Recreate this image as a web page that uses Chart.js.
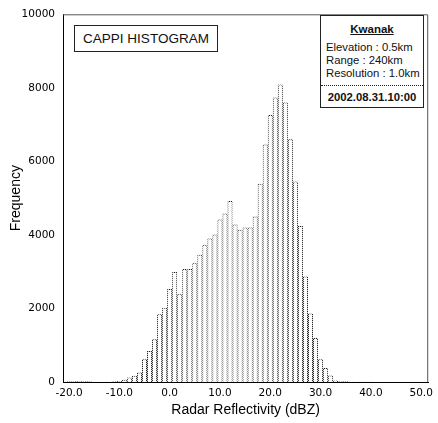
<!DOCTYPE html>
<html>
<head>
<meta charset="utf-8">
<script src="https://cdn.jsdelivr.net/npm/chart.js@4.4.0/dist/chart.umd.min.js"></script>
<style>
  body { margin: 0; background: #fff; }
  #wrap { position: relative; width: 438px; height: 423px; }
  .box { position: absolute; border: 1px solid #222; background: #fff; font-family: "Liberation Sans", sans-serif; color: #111; }
  #titleBox { left: 74px; top: 25px; width: 142px; height: 25px; font-size: 13.5px; line-height: 25px; text-align: center; }
  #infoBox { left: 320px; top: 15px; width: 102px; height: 91px; font-size: 11.3px; }
  #infoBox .t { position: absolute; left: 5px; white-space: nowrap; }
  #infoBox .c { left: 0; right: 0; text-align: center; font-weight: bold; }
  #infoBox .sep { position: absolute; left: 0; right: 0; top: 69px; border-top: 1px dotted #222; }
</style>
</head>
<body>
<div id="wrap">
  <canvas id="histChart" width="438" height="423"></canvas>
  <div class="box" id="titleBox">CAPPI HISTOGRAM</div>
  <div class="box" id="infoBox">
    <span class="t c" style="top:7px;text-decoration:underline;font-size:11.5px">Kwanak</span>
    <span class="t" style="top:25px">Elevation : 0.5km</span>
    <span class="t" style="top:38px">Range : 240km</span>
    <span class="t" style="top:51px">Resolution : 1.0km</span>
    <div class="sep"></div>
    <span class="t c" style="top:75px">2002.08.31.10:00</span>
  </div>
</div>
<script>
// reflectivity bin centres (dBZ) and counts
const bins = [-20, -19, -18, -17, -16, -15, -14, -13, -12, -11, -10, -9, -8, -7, -6, -5, -4, -3, -2, -1,
  0, 1, 2, 3, 4, 5, 6, 7, 8, 9, 10, 11, 12, 13, 14, 15, 16, 17, 18, 19,
  20, 21, 22, 23, 24, 25, 26, 27, 28, 29, 30, 31, 32, 33, 34, 35, 36, 37, 38, 39, 40];
const counts = [20, 25, 25, 30, 20, 10, 10, 10, 10, 20, 30, 60, 120, 170, 260, 620, 840, 1160, 1840, 2020,
  2530, 2990, 2400, 3070, 3070, 3240, 3460, 3730, 3900, 4010, 4420, 4580, 4920, 4280, 4140, 4200, 4200, 4500, 5390, 6460,
  7260, 7740, 8090, 7600, 6600, 5450, 4240, 2870, 1860, 1200, 620, 380, 180, 40, 30, 20, 10, 10, 5, 5, 5];
const xTicks = [-20, -10, 0, 10, 20, 30, 40, 50];
const yTicks = [0, 2000, 4000, 6000, 8000, 10000];

// dotted outline for the bars
function dotPattern() {
  const c = document.createElement('canvas');
  c.width = 2; c.height = 2;
  const g = c.getContext('2d');
  g.fillStyle = '#d0d0d0'; g.fillRect(0, 0, 2, 2);
  g.fillStyle = '#222'; g.fillRect(0, 0, 1, 1); g.fillRect(1, 1, 1, 1);
  return g.createPattern(c, 'repeat');
}

const frame = {
  id: 'frame',
  afterDraw(chart) {
    const a = chart.chartArea, c = chart.ctx;
    c.save();
    c.strokeStyle = '#555';
    c.lineWidth = 1;
    c.beginPath();
    c.moveTo(a.left, a.top + 0.5);
    c.lineTo(a.right - 0.5, a.top + 0.5);
    c.lineTo(a.right - 0.5, a.bottom);
    c.stroke();
    c.restore();
  }
};

const tickFont = { family: 'DejaVu Sans', size: 10.5 };
const ctx = document.getElementById('histChart').getContext('2d');

new Chart(ctx, {
  type: 'bar',
  data: {
    datasets: [{
      data: bins.map((b, i) => ({ x: b, y: counts[i] })),
      backgroundColor: '#fff',
      borderColor: dotPattern(),
      borderWidth: 1,
      barPercentage: 1,
      categoryPercentage: 1,
      inflateAmount: 0
    }]
  },
  options: {
    responsive: false,
    animation: false,
    layout: { padding: { top: 11, right: 7, left: 0, bottom: 0 } },
    plugins: { legend: { display: false }, tooltip: { enabled: false } },
    scales: {
      x: {
        type: 'linear',
        offset: false,
        min: -21.2,
        max: 51.4,
        grid: { display: false, drawTicks: false },
        border: { display: true, color: '#000', width: 1 },
        afterBuildTicks: s => { s.ticks = xTicks.map(v => ({ value: v })); },
        afterFit: s => { s.height = 41; },
        ticks: { color: '#000', font: tickFont, padding: 5, maxRotation: 0, callback: v => v.toFixed(1) },
        title: { display: true, text: 'Radar Reflectivity (dBZ)', color: '#000',
          font: { family: 'Liberation Sans', size: 14 }, padding: { top: 0, bottom: 4 } }
      },
      y: {
        min: 0,
        max: 10000,
        grid: { display: false, drawTicks: false },
        border: { display: true, color: '#000', width: 1 },
        afterBuildTicks: s => { s.ticks = yTicks.map(v => ({ value: v })); },
        afterFit: s => { s.width = 63; },
        ticks: { color: '#000', font: tickFont, padding: 8, callback: v => String(v) },
        title: { display: true, text: 'Frequency', color: '#000',
          font: { family: 'Liberation Sans', size: 14 }, padding: { top: 8, bottom: 0 } }
      }
    }
  },
  plugins: [frame]
});
</script>
</body>
</html>
